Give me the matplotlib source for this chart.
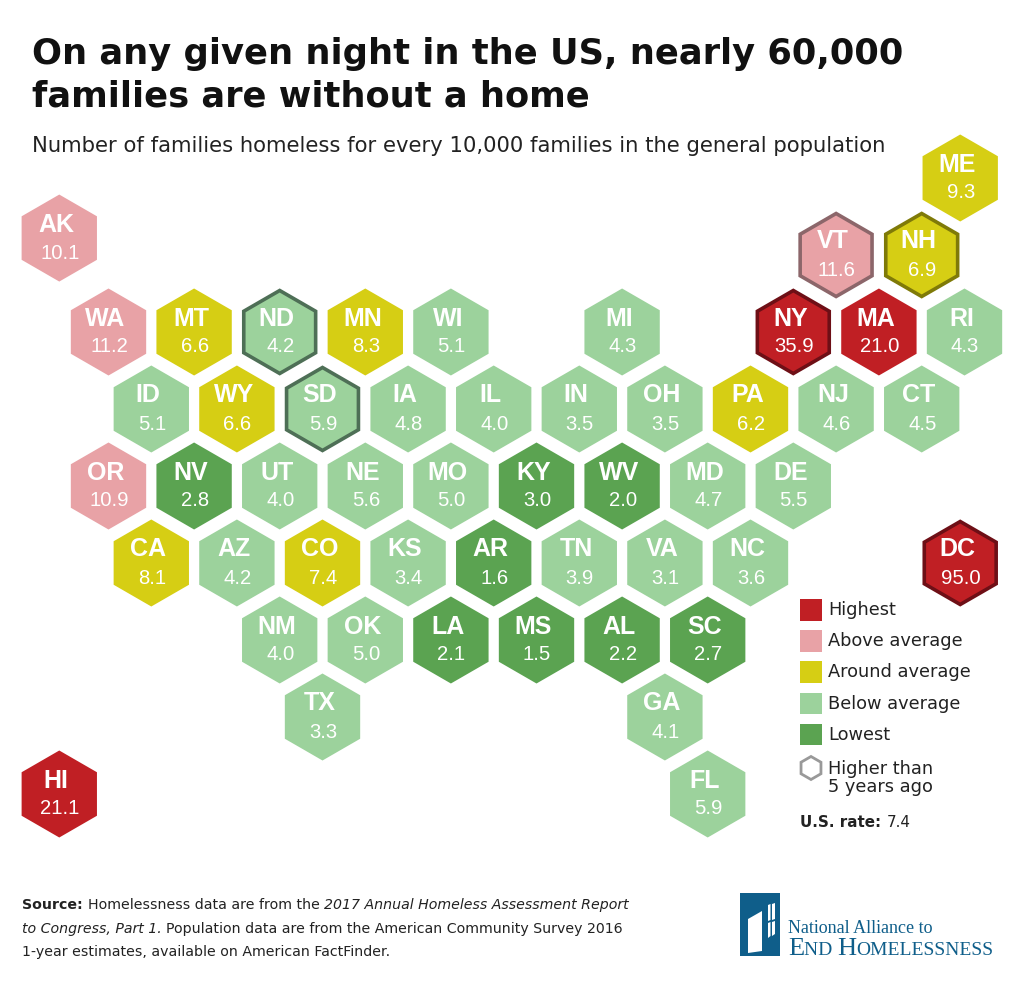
"""Hex tile map of family homelessness rates by US state."""

import matplotlib

matplotlib.use("Agg")  # no display needed, just save to file
import matplotlib.pyplot as plt
from matplotlib.patches import Polygon, Rectangle, RegularPolygon

states = ["AK", "ME", "VT", "NH", "WA", "MT", "ND", "MN", "WI", "MI", "NY", "MA", "RI",
          "ID", "WY", "SD", "IA", "IL", "IN", "OH", "PA", "NJ", "CT",
          "OR", "NV", "UT", "NE", "MO", "KY", "WV", "MD", "DE",
          "CA", "AZ", "CO", "KS", "AR", "TN", "VA", "NC", "DC",
          "NM", "OK", "LA", "MS", "AL", "SC", "TX", "GA", "HI", "FL"]
cols = [0.85, 21.9, 19, 21, 2, 4, 6, 8, 10, 14, 18, 20, 22,
        3, 5, 7, 9, 11, 13, 15, 17, 19, 21,
        2, 4, 6, 8, 10, 12, 14, 16, 18,
        3, 5, 7, 9, 11, 13, 15, 17, 21.9,
        6, 8, 10, 12, 14, 16, 7, 15, 0.85, 16]
rows = [-1.22, -2, -1, -1, 0, 0, 0, 0, 0, 0, 0, 0, 0,
        1, 1, 1, 1, 1, 1, 1, 1, 1, 1,
        2, 2, 2, 2, 2, 2, 2, 2, 2,
        3, 3, 3, 3, 3, 3, 3, 3, 3,
        4, 4, 4, 4, 4, 4, 5, 5, 6, 6]
values = [10.1, 9.3, 11.6, 6.9, 11.2, 6.6, 4.2, 8.3, 5.1, 4.3, 35.9, 21.0, 4.3,
          5.1, 6.6, 5.9, 4.8, 4.0, 3.5, 3.5, 6.2, 4.6, 4.5,
          10.9, 2.8, 4.0, 5.6, 5.0, 3.0, 2.0, 4.7, 5.5,
          8.1, 4.2, 7.4, 3.4, 1.6, 3.9, 3.1, 3.6, 95.0,
          4.0, 5.0, 2.1, 1.5, 2.2, 2.7, 3.3, 4.1, 21.1, 5.9]
tiers = ["above", "around", "above", "around", "above", "around", "below", "around", "below", "below", "highest", "highest", "below",
         "below", "around", "below", "below", "below", "below", "below", "around", "below", "below",
         "above", "lowest", "below", "below", "below", "lowest", "lowest", "below", "below",
         "around", "below", "around", "below", "lowest", "below", "below", "below", "highest",
         "below", "below", "lowest", "lowest", "lowest", "lowest", "below", "below", "highest", "below"]
higher_than_before = ["VT", "NH", "ND", "SD", "NY", "DC"]

tier_colors = {"highest": "#C01F24", "above": "#E8A2A6", "around": "#D6CE14",
               "below": "#9CD29C", "lowest": "#5BA351"}
edge_colors = {"highest": "#6E0F16", "above": "#8C666A", "around": "#7F7A08",
               "below": "#4E6F56"}
legend_tiers = ["highest", "above", "around", "below", "lowest"]
legend_labels = ["Highest", "Above average", "Around average", "Below average", "Lowest"]

title_lines = ["On any given night in the US, nearly 60,000", "families are without a home"]
subtitle = "Number of families homeless for every 10,000 families in the general population"

DARK = "#222222"
LOGO = "#0F5E8A"

plt.rcParams["font.family"] = "DejaVu Sans"

fig = plt.figure(figsize=(10.24, 9.83), dpi=100)
ax = fig.add_axes([0, 0, 1, 1])
ax.set_xlim(0, 1024)
ax.set_ylim(983, 0)  # pixel-like units, y going down as in the layout
ax.axis("off")


def runs(x, y, parts, **kw):
    """Draw (text, style dict) pieces one after another on a baseline."""
    renderer = fig.canvas.get_renderer()
    for s, style in parts:
        t = ax.text(x, y, s, va="baseline", ha="left", **{**kw, **style})
        x = t.get_window_extent(renderer).x1 * 1024 / fig.bbox.width


# title block
ax.text(32, 64, title_lines[0], fontsize=25.4, fontweight="bold", color="#111111")
ax.text(32, 106.5, title_lines[1], fontsize=25.4, fontweight="bold", color="#111111")
ax.text(32, 151.5, subtitle, fontsize=15.2, color=DARK)

# hex tiles
for st, c, r, v, tier in zip(states, cols, rows, values, tiers):
    x = 22.9 + 42.8 * c
    y = 332 + 77 * r
    if st in higher_than_before:
        ax.add_patch(RegularPolygon((x, y), 6, radius=41.5, orientation=0,
                                    facecolor=tier_colors[tier],
                                    edgecolor=edge_colors[tier], linewidth=2.6,
                                    joinstyle="miter"))
    else:
        ax.add_patch(RegularPolygon((x, y), 6, radius=43.5, orientation=0,
                                    facecolor=tier_colors[tier], edgecolor="none"))
    ax.text(x - 3, y - 13.5, st, ha="center", va="center", color="white",
            fontsize=18, fontweight="bold", family="Liberation Sans")
    ax.text(x + 0.5, y + 15, f"{v:.1f}", ha="center", va="center", color="white",
            fontsize=14.6, family="Liberation Sans")

# legend
for i, (tier, label) in enumerate(zip(legend_tiers, legend_labels)):
    y = 610 + 31.2 * i
    ax.add_patch(Rectangle((800, y - 11), 21.5, 21.5, facecolor=tier_colors[tier],
                           edgecolor="none"))
    ax.text(828, y, label, va="center", fontsize=12.8, color=DARK)
ax.add_patch(RegularPolygon((811, 768), 6, radius=11.5, orientation=0, facecolor="white",
                            edgecolor="#999999", linewidth=2))
ax.text(828, 768.5, "Higher than", va="center", fontsize=12.8, color=DARK)
ax.text(828, 787, "5 years ago", va="center", fontsize=12.8, color=DARK)
fig.canvas.draw()
runs(800, 827, [("U.S. rate: ", {"fontweight": "bold"}), ("7.4", {})],
     fontsize=10.9, color=DARK)

# source note
src = {"fontsize": 10.2, "color": DARK}
ital = {"fontstyle": "italic"}
runs(22, 909, [("Source: ", {"fontweight": "bold"}),
               ("Homelessness data are from the ", {}),
               ("2017 Annual Homeless Assessment Report", ital)], **src)
runs(22, 933, [("to Congress, Part 1. ", ital),
               ("Population data are from the American Community Survey 2016", {})], **src)
runs(22, 956, [("1-year estimates, available on American FactFinder.", {})], **src)

# logo: dark block with a door and a four-pane window cut out of it
ax.add_patch(Rectangle((740, 893), 40, 63, facecolor=LOGO, edgecolor="none"))
ax.add_patch(Polygon([(748, 919), (762, 911), (762, 951), (748, 953)],
                     facecolor="white", edgecolor="none"))
ax.add_patch(Polygon([(768, 905), (770.5, 904), (770.5, 920), (768, 921)],
                     facecolor="white", edgecolor="none"))
ax.add_patch(Polygon([(772, 904), (775, 903), (775, 919), (772, 920)],
                     facecolor="white", edgecolor="none"))
ax.add_patch(Polygon([(768, 923), (770.5, 922), (770.5, 936), (768, 938)],
                     facecolor="white", edgecolor="none"))
ax.add_patch(Polygon([(772, 922), (775, 921), (775, 934), (772, 936)],
                     facecolor="white", edgecolor="none"))
serif = {"family": "Liberation Serif", "color": LOGO}
ax.text(788, 933, "National Alliance to", fontsize=13, **serif)
runs(788, 955, [("E", {"fontsize": 19}), ("ND ", {"fontsize": 14}),
                ("H", {"fontsize": 19}), ("OMELESSNESS", {"fontsize": 14})], **serif)

fig.savefig("out.png", dpi=100)
plt.close(fig)
